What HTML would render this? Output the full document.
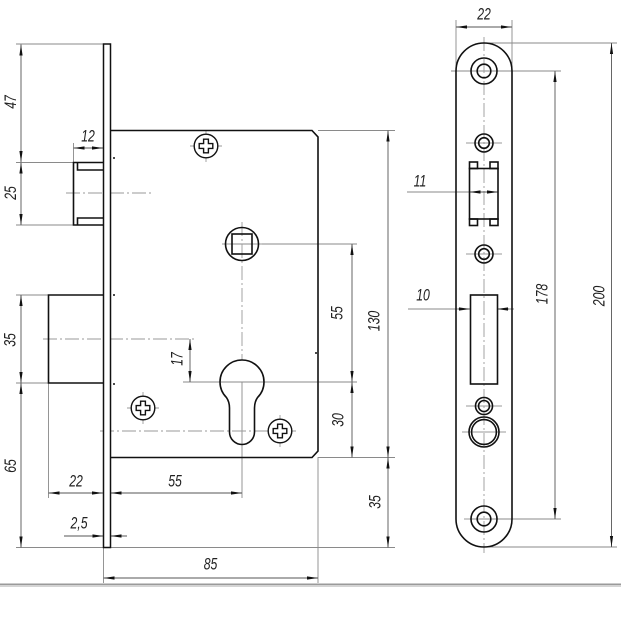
<!DOCTYPE html>
<html><head><meta charset="utf-8"><style>
html,body{margin:0;padding:0;background:#fff;width:621px;height:621px;overflow:hidden}
svg{display:block}
text{font-family:"Liberation Sans",sans-serif;font-style:italic;font-size:17px;fill:#222}
</style></head><body>
<svg width="621" height="621" viewBox="0 0 621 621" xmlns="http://www.w3.org/2000/svg">
<defs>
<marker id="a" markerUnits="userSpaceOnUse" markerWidth="11" markerHeight="5" viewBox="0 0 11 4" refX="11" refY="2" orient="auto-start-reverse"><path d="M0,0.4 L11,2 L0,3.6 z" fill="#111"/></marker>
<g id="plus"><circle r="11.8" fill="#fff" stroke="#111" stroke-width="1.4"/><path d="M-2.4,-6.8 H2.4 V-2.4 H6.8 V2.4 H2.4 V6.8 H-2.4 V2.4 H-6.8 V-2.4 H-2.4 Z" fill="none" stroke="#111" stroke-width="1.4"/></g>
</defs>

<!-- extension lines -->
<g stroke="#8a8a8a" stroke-width="0.9" fill="none">
<path d="M16,44 H103 M16,162.5 H73 M16,225 H73 M16,295 H48 M16,383 H48 M16,547.5 H395"/>
<path d="M73.5,143 V162 M103.5,548 V583 M318,457 V583 M48.5,383 V498 M242,382 V498"/>
<path d="M318,130.5 H395 M318,457.5 H395 M224,244 H357 M183,382 H357"/>
<path d="M484,43 H617 M451,71 H561 M470,519 H561 M484,547 H617 M456,20 V70 M512,20 V70"/>
<path d="M407,192 H469 M408,309 H460 M507,309 H514 M64,536 H103 M110,536 H127"/>
</g>
<!-- center lines -->
<g stroke="#9a9a9a" stroke-width="0.9" fill="none" stroke-dasharray="14 3 2 3">
<path d="M66,193 H152 M43,339 H197 M100,431 H298 M242,222 V360 M484,37 V553"/>
</g>
<g stroke="#9a9a9a" stroke-width="0.9" fill="none">
<path d="M190,146 H222 M206,130 V162 M127,408 H159 M143,392 V424 M264,431 H296 M280,415 V447 M222,244 H232 M252,244 H262"/>
<path d="M466,143 H502 M466,254 H502 M466,406 H502 M462,432 H506 M464,519 H470"/>
</g>

<!-- dimension lines -->
<g stroke="#555" stroke-width="0.9" fill="none" marker-start="url(#a)" marker-end="url(#a)">
<path d="M21,44.5 V162"/>
<path d="M21,162.5 V225"/>
<path d="M21,295 V383"/>
<path d="M21,383 V547.5"/>
<path d="M352,244 V382"/>
<path d="M352,382 V457.5"/>
<path d="M388,130.5 V457.5"/>
<path d="M388,457.5 V547.5"/>
<path d="M555,71 V519"/>
<path d="M611.5,43 V547"/>
<path d="M456,27 H512"/>
<path d="M48.5,493 H103"/>
<path d="M110.5,493 H242"/>
<path d="M103.5,578 H318"/>
<path d="M73.5,148 H103"/>
<path d="M190,339 V382"/>
<path d="M469.5,192 H498"/>
</g>
<g stroke="#555" stroke-width="0.9" fill="none" marker-end="url(#a)">
<path d="M64,536 H103.5"/>
<path d="M127,536 H110.5"/>
<path d="M458,309 H470"/>
<path d="M509,309 H497"/>
</g>

<!-- left view: face plate -->
<rect x="103.5" y="44" width="7" height="503.5" fill="#fff" stroke="#111" stroke-width="1.5"/>
<g stroke="#111" stroke-width="1.6" fill="none">
<path d="M110.5,130.5 H312 L318,137 V451 L312,457.5 H110.5"/>
<path d="M103,162.5 H73.5 V225 H103 M77.5,162.5 V170 H103 M77.5,225 V218 H103"/>
<path d="M103,295 H48.5 V383 H103"/>
<circle cx="242" cy="244" r="16.5"/>
<rect x="232" y="234" width="20" height="20"/>
<path d="M229.5,432 V408 Q229.5,402 226.5,397.6 A22,22 0 1 1 257.5,397.6 Q254.5,402 254.5,408 V432 A12.5,12.5 0 0 1 229.5,432 Z"/>
</g>
<use href="#plus" x="206" y="146"/>
<use href="#plus" x="143" y="408"/>
<use href="#plus" x="280" y="431"/>
<g fill="#111">
<circle cx="114" cy="158" r="1"/><circle cx="114" cy="295" r="1"/><circle cx="114" cy="384" r="1"/><circle cx="316" cy="353" r="1"/>
</g>

<!-- right view: strike plate -->
<g stroke="#111" stroke-width="1.6" fill="none">
<path d="M456,71 A28,28 0 0 1 512,71 V519 A28,28 0 0 1 456,519 Z"/>
<circle cx="484" cy="71" r="13"/><circle cx="484" cy="71" r="6.8"/>
<circle cx="484" cy="143" r="9"/><circle cx="484" cy="143" r="5.3"/>
<circle cx="484" cy="254" r="9"/><circle cx="484" cy="254" r="5.3"/>
<circle cx="484" cy="406" r="8.5"/><circle cx="484" cy="406" r="5.5"/>
<circle cx="484" cy="432" r="15"/><circle cx="484" cy="432" r="12.4"/>
<circle cx="484" cy="519" r="13"/><circle cx="484" cy="519" r="6.8"/>
<rect x="469.5" y="168.5" width="28.5" height="50.5"/>
<rect x="469.5" y="162" width="8" height="6.5"/><rect x="490" y="162" width="8" height="6.5"/>
<rect x="469.5" y="219" width="8" height="6.5"/><rect x="490" y="219" width="8" height="6.5"/>
<rect x="470.5" y="295" width="27" height="89"/>
</g>

<!-- labels -->
<g transform="translate(11.5,102) rotate(-90) scale(0.72,1)"><text text-anchor="middle" dominant-baseline="central">47</text></g>
<g transform="translate(11.5,193) rotate(-90) scale(0.72,1)"><text text-anchor="middle" dominant-baseline="central">25</text></g>
<g transform="translate(11,340) rotate(-90) scale(0.72,1)"><text text-anchor="middle" dominant-baseline="central">35</text></g>
<g transform="translate(11.5,466) rotate(-90) scale(0.72,1)"><text text-anchor="middle" dominant-baseline="central">65</text></g>
<g transform="translate(178,359) rotate(-90) scale(0.72,1)"><text text-anchor="middle" dominant-baseline="central">17</text></g>
<g transform="translate(338,313) rotate(-90) scale(0.72,1)"><text text-anchor="middle" dominant-baseline="central">55</text></g>
<g transform="translate(375,321) rotate(-90) scale(0.72,1)"><text text-anchor="middle" dominant-baseline="central">130</text></g>
<g transform="translate(339,420) rotate(-90) scale(0.72,1)"><text text-anchor="middle" dominant-baseline="central">30</text></g>
<g transform="translate(376,502) rotate(-90) scale(0.72,1)"><text text-anchor="middle" dominant-baseline="central">35</text></g>
<g transform="translate(543,294) rotate(-90) scale(0.72,1)"><text text-anchor="middle" dominant-baseline="central">178</text></g>
<g transform="translate(600,296) rotate(-90) scale(0.72,1)"><text text-anchor="middle" dominant-baseline="central">200</text></g>
<g transform="translate(88,137) scale(0.72,1)"><text text-anchor="middle" dominant-baseline="central">12</text></g>
<g transform="translate(76,482) scale(0.72,1)"><text text-anchor="middle" dominant-baseline="central">22</text></g>
<g transform="translate(175,482) scale(0.72,1)"><text text-anchor="middle" dominant-baseline="central">55</text></g>
<g transform="translate(79,524) scale(0.72,1)"><text text-anchor="middle" dominant-baseline="central">2,5</text></g>
<g transform="translate(210.5,565) scale(0.72,1)"><text text-anchor="middle" dominant-baseline="central">85</text></g>
<g transform="translate(484,15) scale(0.72,1)"><text text-anchor="middle" dominant-baseline="central">22</text></g>
<g transform="translate(420,182) scale(0.72,1)"><text text-anchor="middle" dominant-baseline="central">11</text></g>
<g transform="translate(423,296) scale(0.72,1)"><text text-anchor="middle" dominant-baseline="central">10</text></g>

<!-- bottom separator -->
<rect x="0" y="583.5" width="621" height="1.5" fill="#9a9a9a"/>
<rect x="0" y="585" width="621" height="2" fill="#d4d4d4"/>
</svg>
</body></html>
